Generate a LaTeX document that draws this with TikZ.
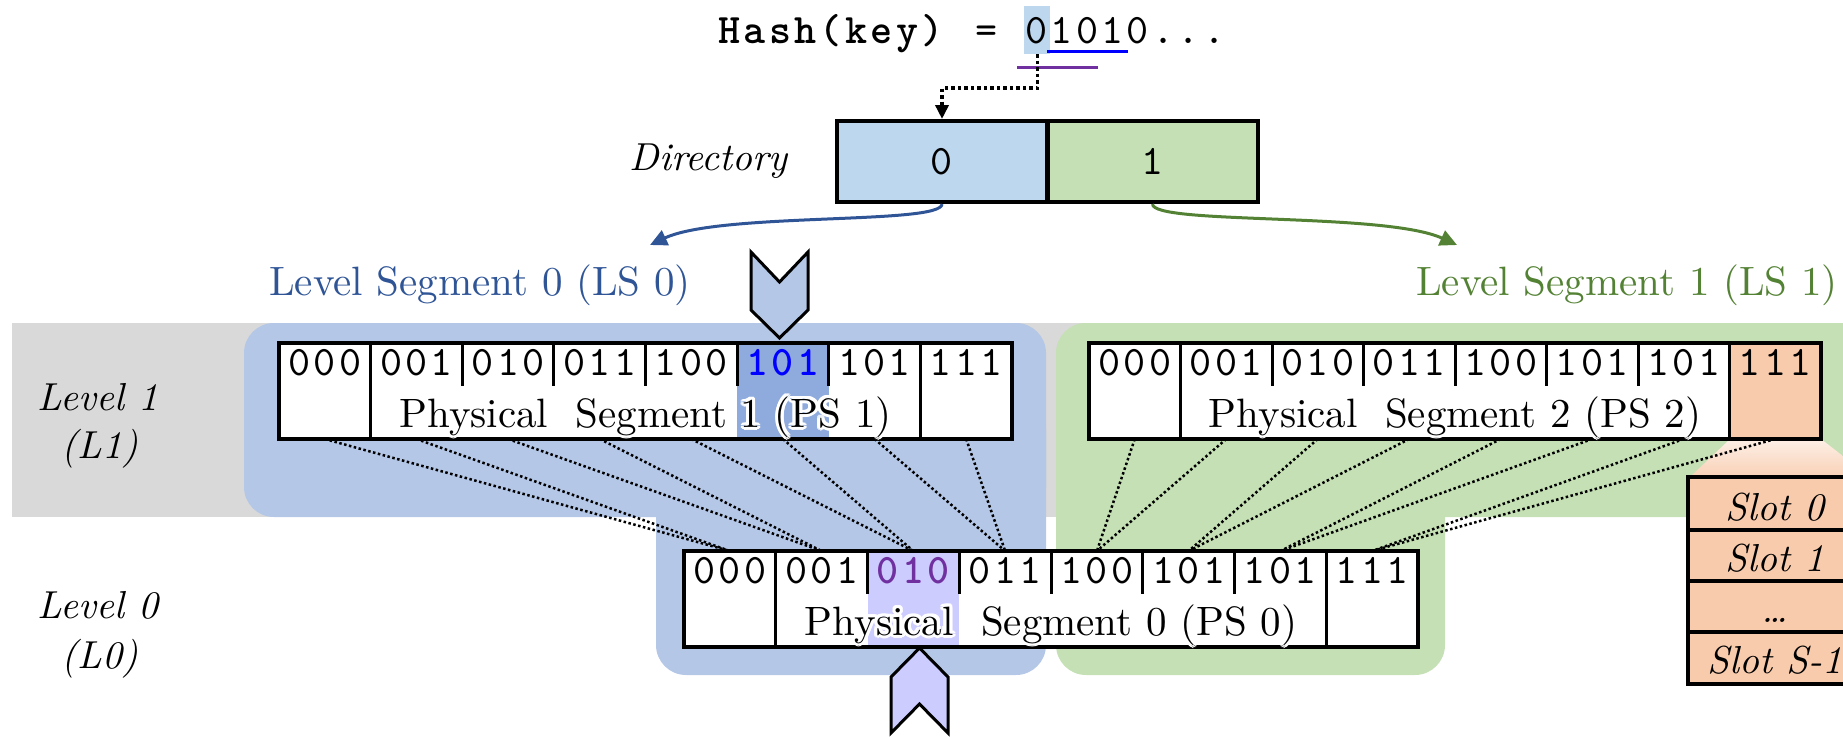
\documentclass[tikz,border=0pt]{standalone}
\usepackage{fontspec}
\usepackage[copies]{contour}
\usetikzlibrary{arrows.meta}
\newfontfamily\cmono{lmmono10-regular.otf}[LetterSpace=8,BoldFont=lmmonolt10-bold.otf]
\newfontfamily\rmten{lmroman10-regular.otf}
\newfontfamily\itten{lmroman10-italic.otf}
\definecolor{dirblue}{HTML}{BDD7EE}
\definecolor{dirgreen}{HTML}{C5E0B4}
\definecolor{regblue}{HTML}{B4C7E7}
\definecolor{reggreen}{HTML}{C5E0B4}
\definecolor{band}{HTML}{D9D9D9}
\definecolor{hlblue}{HTML}{8FAADC}
\definecolor{lav}{HTML}{CCCCFF}
\definecolor{peach}{HTML}{F8CBAD}
\definecolor{lsblue}{HTML}{2F5597}
\definecolor{lsgreen}{HTML}{548235}
\definecolor{purp}{HTML}{7030A0}
\definecolor{pureblue}{HTML}{0000FF}
\contourlength{3pt}
\contournumber{16}
\newcommand\segbox[5]{%
 \fill[white] (#1,#2) rectangle ({#1+8*#3},#2+96);
 \fill[#5] ({#1+#4*#3},#2) rectangle ({#1+(#4+1)*#3},#2+96);
 \foreach \d in {2,...,6} \draw[div] ({#1+\d*#3},#2) -- ({#1+\d*#3},#2+43);
 \draw[div] ({#1+#3},#2) -- ({#1+#3},#2+96);
 \draw[div] ({#1+7*#3},#2) -- ({#1+7*#3},#2+96);
 \draw[thick4] (#1,#2) rectangle ({#1+8*#3},#2+96);
}
\begin{document}
\begin{tikzpicture}[x=1pt,y=-1pt,
  monot/.style={font=\cmono\fontsize{42}{46}\selectfont, inner sep=0pt},
  celllbl/.style={monot, anchor=base},
  itl/.style={font=\itten\fontsize{39}{44}\selectfont, inner sep=0pt},
  rom/.style={font=\rmten\fontsize{41}{44}\selectfont, inner sep=0pt},
  pstext/.style={font=\rmten\fontsize{41}{44}\selectfont, inner sep=0pt, anchor=base},
  dotl/.style={line width=2.5pt, dash pattern=on 2.5pt off 2.5pt},
  thick4/.style={line width=4pt},
  div/.style={line width=3pt},
  dircell/.style={draw, line width=4pt, minimum width=210pt, minimum height=81pt, inner sep=0pt, monot},
  chev/.style={draw, line width=3pt, line join=miter},
]
\useasboundingbox (0,0) rectangle (1843,736);
\clip (0,0) rectangle (1843,736);

% background regions
\fill[band] (12,323) rectangle (1843,517);
\fill[regblue, rounded corners=30pt] (244,323) rectangle (1046,517);
\fill[regblue, rounded corners=30pt] (656,400) rectangle (1046,675);
\fill[reggreen, rounded corners=30pt] (1056,323) rectangle (1900,517);
\fill[reggreen, rounded corners=30pt] (1056,400) rectangle (1445,675);

% funnel to slot box
\shade[top color=peach!30!white, bottom color=peach!90!white] (1730,439) -- (1821,439) -- (1870,477) -- (1690,477) -- cycle;

% coordinates of cell ends
\foreach \i in {0,...,7} {
  \coordinate (p1b\i) at ({279+(\i+0.5)*91.625},439);
  \coordinate (p2b\i) at ({1089+(\i+0.5)*91.5},439);
  \coordinate (p0t\i) at ({684+(\i+0.5)*91.75},551);
}
\foreach \i in {0,...,7} {
  \pgfmathtruncatemacro\j{int(\i/2)}
  \pgfmathtruncatemacro\k{int(\i/2)+4}
  \draw[dotl] (p1b\i) -- (p0t\j);
  \draw[dotl] (p2b\i) -- (p0t\k);
}

% physical segments
\segbox{279}{343}{91.625}{5}{hlblue}
\segbox{1089}{343}{91.5}{7}{peach}
\segbox{684}{551}{91.75}{2}{lav}

\foreach \t [count=\i from 0] in {000,001,010,011,100,{\bfseries\color{pureblue}101},101,111}
  \node[celllbl] (ps1c\i) at ({279+(\i+0.5)*91.625},375) {\t};
\foreach \t [count=\i from 0] in {000,001,010,011,100,101,101,111}
  \node[celllbl] (ps2c\i) at ({1089+(\i+0.5)*91.5},375) {\t};
\foreach \t [count=\i from 0] in {000,001,{\bfseries\color{purp}010},011,100,101,101,111}
  \node[celllbl] (ps0c\i) at ({684+(\i+0.5)*91.75},583) {\t};

\node[pstext] (ps1t) at (645.5,427) {\contour{white}{Physical\ \ Segment 1 (PS 1)}};
\node[pstext] (ps2t) at (1455,427) {\contour{white}{Physical\ \ Segment 2 (PS 2)}};
\node[pstext] (ps0t) at (1051,635) {\contour{white}{Physical\ \ Segment 0 (PS 0)}};

% chevrons
\draw[chev, fill=regblue] (751,252) -- (779.5,282) -- (808,252) -- (808,310) -- (779.5,338) -- (751,310) -- cycle;
\draw[chev, fill=lav] (891,677) -- (919.5,648) -- (948,677) -- (948,733) -- (919.5,704) -- (891,733) -- cycle;

% slot box
\fill[peach] (1688,477) rectangle (1863,684);
\draw[thick4] (1688,530) -- (1863,530);
\draw[thick4] (1688,581) -- (1863,581);
\draw[thick4] (1688,632) -- (1863,632);
\draw[thick4] (1688,477) rectangle (1863,684);
\node[itl, anchor=base] (slot0) at (1775,520) {Slot 0};
\node[itl, anchor=base] (slot1) at (1775,571) {Slot 1};
\node[itl, anchor=base] (slotd) at (1775,622) {\dots};
\node[itl, anchor=base] (slotn) at (1775,673) {Slot S-1};

% directory
\node[dircell, fill=dirblue] (d0) at (942,161.5) {0};
\node[dircell, fill=dirgreen] (d1) at (1152.5,161.5) {1};
\node[itl, anchor=base east] (dirl) at (788,170) {Directory};

% hash line
\fill[dirblue] (1024,6) rectangle (1050,54);
\node[monot, anchor=base west] (hash) at (718,43) {\bfseries Hash(key)};
\node[monot, anchor=base] (eq) at (987,43) {=};
\node[monot, anchor=base west] (bits) at (1025,43) {01010...};
\draw[pureblue, line width=3pt] (1047,51) -- (1128,51);
\draw[purp, line width=3pt] (1017,67) -- (1098,67);
\coordinate (hs) at (1037.5,54);
\coordinate (hk) at (1037.5,88);
\draw[line width=3.5pt, dash pattern=on 3.5pt off 3pt, -{Triangle[length=14pt,width=13pt]}] (hs) -- (hk) -| (d0.north);

% directory pointers
\coordinate (ls0a) at (650,245);
\coordinate (ls1a) at (1457,245);
\draw[lsblue, line width=3pt, -{Triangle[length=17pt,width=16pt]}] (d0.south) .. controls (942,225) and (720,212) .. (ls0a);
\draw[lsgreen, line width=3pt, -{Triangle[length=17pt,width=16pt]}] (d1.south) .. controls (1152,225) and (1385,212) .. (ls1a);

\node[rom, text=lsblue, anchor=base] (ls0) at (480,295) {Level Segment 0 (LS 0)};
\node[rom, text=lsgreen, anchor=base] (ls1) at (1627,295) {Level Segment 1 (LS 1)};

% level labels
\node[itl, anchor=base] (lv1a) at (98,410) {Level 1};
\node[itl, anchor=base] (lv1b) at (100,458) {(L1)};
\node[itl, anchor=base] (lv0a) at (98,618) {Level 0};
\node[itl, anchor=base] (lv0b) at (100,668) {(L0)};
\end{tikzpicture}
\end{document}
